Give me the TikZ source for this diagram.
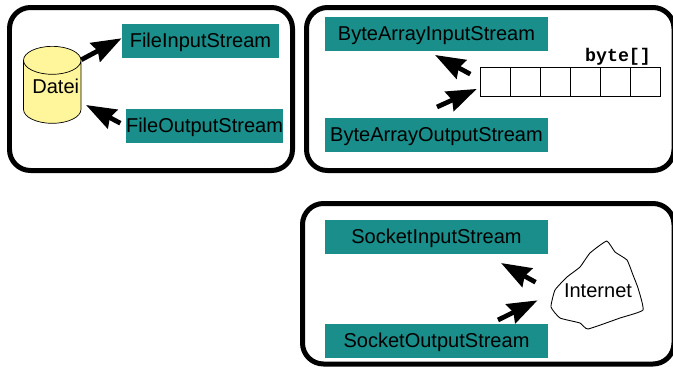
\documentclass[tikz,border=0pt]{standalone}
\usepackage{fontspec}
\setmainfont{Liberation Sans}
\newfontfamily\bytefont{Liberation Mono}
\usetikzlibrary{arrows.meta,shapes.geometric}
\definecolor{streamteal}{HTML}{1A8E8A}
\definecolor{dateiyellow}{HTML}{FFF59B}
\tikzset{
	panel/.style={draw, line width=0.1cm, rounded corners=0.42cm},
	streambox/.style={fill=streamteal, minimum width=4.46cm, minimum height=0.68cm, inner sep=0pt, text height=0.26cm, text depth=0pt, font=\fontsize{11.4}{13}\selectfont},
	bigarrow/.style={-{Stealth[length=0.6cm,width=0.42cm,inset=0.06cm]}, line width=0.095cm},
	bytecell/.style={draw, line width=0.5pt, minimum width=0.6cm, minimum height=0.57cm, inner sep=0pt, outer sep=0pt},
}
\begin{document}
\begin{tikzpicture}[x=0.02cm,y=-0.02cm]
			\useasboundingbox (0,0) rectangle (673,366);
			\clip (0,0) rectangle (673,366);
			
			% panels
			\draw[panel](9.5,7.5) rectangle (292.5,170.5);
			\draw[panel](306.5,7.5) rectangle (674,170.5);
			\draw[panel](302.5,203.5) rectangle (674,364);
			
			% file streams
			\node[draw, cylinder, shape border rotate=90, shape aspect=0.52, fill=dateiyellow, minimum width=1.15cm, minimum height=1.54cm, inner sep=0pt, font=\fontsize{11.4}{13}\selectfont](datei) at (52.25,92) {\raisebox{6pt}{\hspace{4pt}Datei}};
			\node[streambox, minimum width=3.14cm](fileinput) at (200.5,41) {FileInputStream};
			\node[streambox, minimum width=3.14cm](fileoutput) at (204.5,126) {FileOutputStream};
			\coordinate[](fileoutputtip) at (86,105);
			\draw[bigarrow](datei.48) -- (fileinput.178);
			\draw[bigarrow, shorten <=0.12cm](fileoutput.west) -- (fileoutputtip);
			
			% byte array streams
			\node[streambox](bytein) at (436.5,33.5) {ByteArrayInputStream};
			\node[streambox](byteout) at (436.5,135) {ByteArrayOutputStream};
			\foreach \i in {0,...,5}
				\node[bytecell](cell\i) at (495+30*\i,82) {};
			\node[font=\bytefont\bfseries\fontsize{10.4}{12}\selectfont, inner sep=0pt](bytelabel) at (618,57) {byte[]};
			\coordinate[](byteintip) at (435,55);
			\coordinate[](byteouttail) at (437,107);
			\draw[bigarrow, shorten <=0.22cm](cell0.170) -- (byteintip);
			\draw[bigarrow, shorten >=0.07cm](byteouttail) -- (cell0.200);
			
			% socket streams
			\node[streambox](socketin) at (436.5,237) {SocketInputStream};
			\node[streambox](socketout) at (436.5,341) {SocketOutputStream};
			\draw[line width=0.5pt] plot[smooth cycle, tension=0.25] coordinates {(606.7,241) (615,252) (627,260) (633,275) (638,288) (643,310) (620,318) (588,329) (580,323) (560,318) (551,307) (555,290) (567,277) (580,267) (590,253)};
			\node[minimum width=1.4cm, minimum height=0.72cm, inner sep=0pt, font=\fontsize{11.4}{13}\selectfont](internet) at (598,291) {Internet};
			\coordinate[](socketintip) at (501,263);
			\coordinate[](socketouttail) at (498,320);
			\draw[bigarrow, shorten <=0.62cm](internet.190) -- (socketintip);
			\draw[bigarrow, shorten >=0.56cm](socketouttail) -- (internet.175);
\end{tikzpicture}
\end{document}
